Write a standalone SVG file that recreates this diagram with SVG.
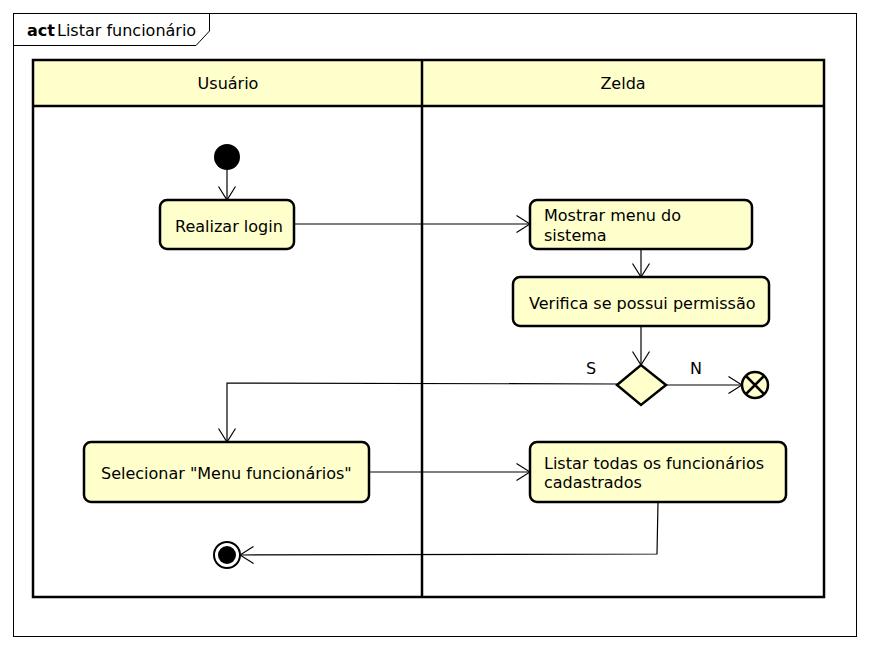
<svg xmlns="http://www.w3.org/2000/svg" width="870" height="650" viewBox="0 0 870 650">
  <style>
    text { font-family: "DejaVu Sans", "Liberation Sans", sans-serif; font-size: 16px; fill: #000; }
    .act { fill: #FFFFCC; stroke: #000; stroke-width: 2.5; }
    .lane { fill: none; stroke: #000; stroke-width: 2.5; }
    .flow { fill: none; stroke: #000; stroke-width: 1.2; }
  </style>
  <defs>
    <marker id="open" viewBox="0 0 15 18" refX="14" refY="9" markerWidth="15" markerHeight="18" markerUnits="userSpaceOnUse" orient="auto">
      <path d="M0.5,0.5 L14,9 L0.5,17.5" fill="none" stroke="#000" stroke-width="1.2"/>
    </marker>
  </defs>
  <rect width="870" height="650" fill="#fff"/>

  <!-- diagram frame -->
  <g id="frame">
    <rect x="13.5" y="13.5" width="843" height="623" fill="none" stroke="#000" stroke-width="1"/>
    <path d="M13.5,13.5 H209.5 V31 L196,45.5 H13.5" fill="none" stroke="#000" stroke-width="1"/>
    <text x="27" y="36" font-weight="bold">act</text>
    <text x="57" y="36">Listar funcionário</text>
  </g>

  <!-- swimlanes -->
  <g id="lanes">
    <rect x="33" y="60" width="791" height="46" fill="#FFFFCC"/>
    <rect class="lane" x="33" y="60" width="791" height="537"/>
    <line class="lane" x1="33" y1="106" x2="824" y2="106"/>
    <line class="lane" x1="422" y1="60" x2="422" y2="597"/>
    <text x="228" y="89" text-anchor="middle">Usuário</text>
    <text x="623" y="89" text-anchor="middle">Zelda</text>
  </g>

  <!-- connectors -->
  <g id="connectors">
    <path class="flow" d="M227,170 V200" marker-end="url(#open)"/>
    <path class="flow" d="M294,224 H530" marker-end="url(#open)"/>
    <path class="flow" d="M641,249 V277" marker-end="url(#open)"/>
    <path class="flow" d="M641,326 V365" marker-end="url(#open)"/>
    <path class="flow" d="M666,385 H742" marker-end="url(#open)"/>
    <path class="flow" d="M617,384 L227,383 V442" marker-end="url(#open)"/>
    <path class="flow" d="M369,472 H530" marker-end="url(#open)"/>
    <path class="flow" d="M658,502 L657,554 L240,555" marker-end="url(#open)"/>
    <text x="586" y="374">S</text>
    <text x="690" y="374">N</text>
  </g>

  <g id="start">
    <circle cx="227" cy="157" r="13" fill="#000"/>
  </g>

  <g id="realizar-login">
    <rect class="act" x="160" y="200" width="134" height="49" rx="7"/>
    <text x="175" y="232">Realizar login</text>
  </g>

  <g id="mostrar-menu">
    <rect class="act" x="530" y="200" width="222" height="49" rx="7"/>
    <text x="544" y="221">Mostrar menu do</text>
    <text x="544" y="241">sistema</text>
  </g>

  <g id="verifica-permissao">
    <rect class="act" x="513" y="277" width="256" height="49" rx="7"/>
    <text x="529" y="309">Verifica se possui permissão</text>
  </g>

  <g id="decisao">
    <polygon class="act" points="617,385 641,365 666,385 641,405"/>
  </g>

  <g id="fim-fluxo">
    <circle cx="755" cy="385" r="13" fill="#FFFFCC" stroke="#000" stroke-width="2.5"/>
    <path d="M746,376 L764,394 M764,376 L746,394" stroke="#000" stroke-width="2.5"/>
  </g>

  <g id="selecionar-menu">
    <rect class="act" x="84" y="442" width="285" height="60" rx="7"/>
    <text x="101" y="479">Selecionar "Menu funcionários"</text>
  </g>

  <g id="listar-funcionarios">
    <rect class="act" x="530" y="442" width="256" height="60" rx="7"/>
    <text x="544" y="469">Listar todas os funcionários</text>
    <text x="544" y="488">cadastrados</text>
  </g>

  <g id="fim">
    <circle cx="227" cy="555" r="13" fill="#fff" stroke="#000" stroke-width="2"/>
    <circle cx="227" cy="555" r="9" fill="#000"/>
  </g>
</svg>
